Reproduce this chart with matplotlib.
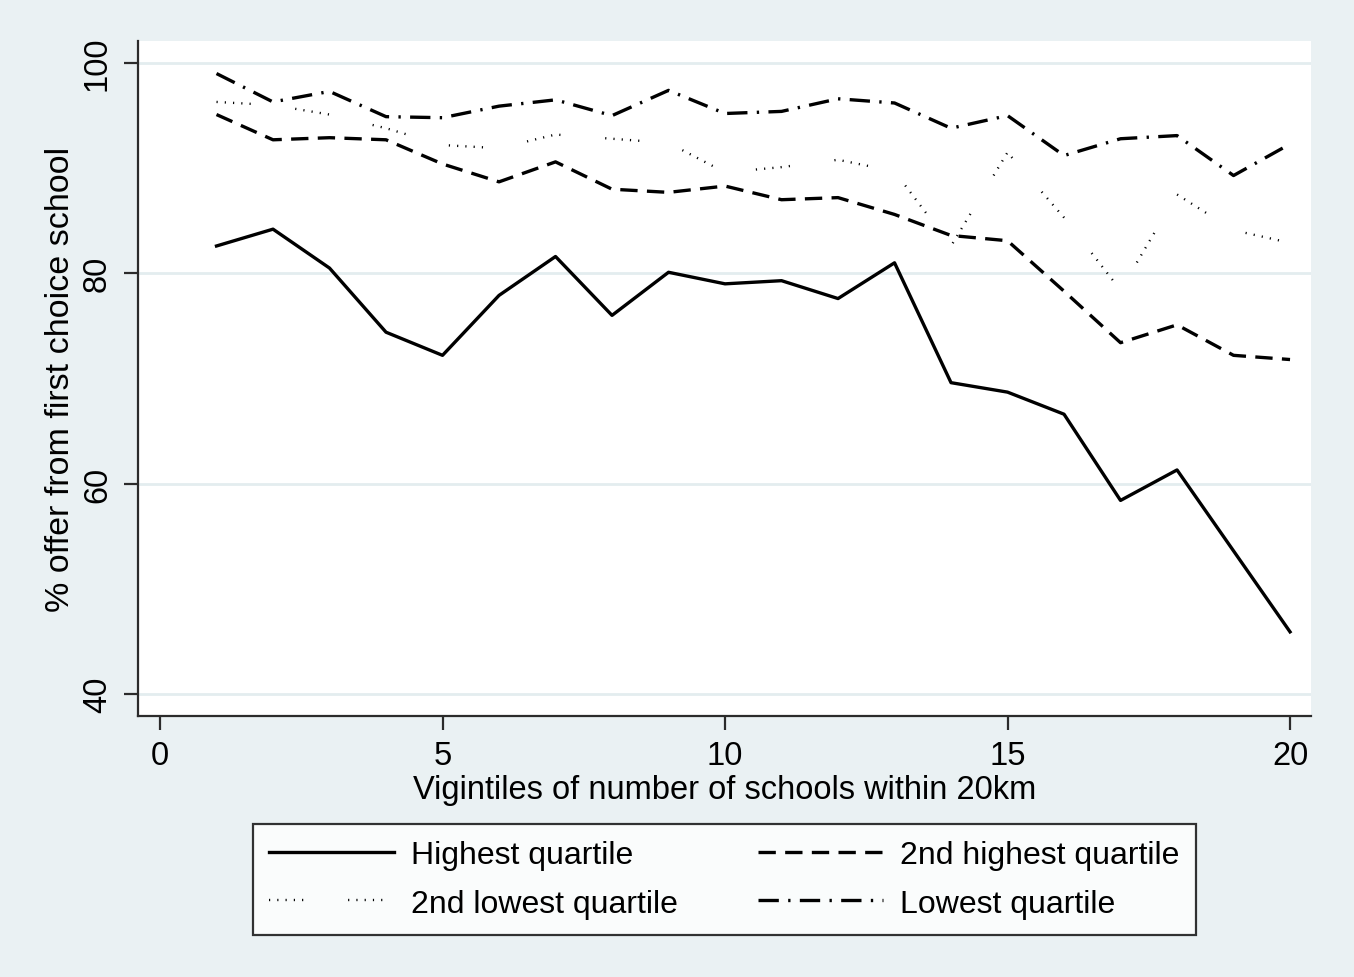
import matplotlib
matplotlib.use("Agg")
import matplotlib.pyplot as plt

# vigintile index and share of pupils offered their first choice, by quartile
vigintile = list(range(1, 21))
highest = [82.6, 84.2, 80.5, 74.4, 72.2, 77.9, 81.6, 76.0, 80.1, 79.0,
           79.3, 77.6, 81.0, 69.6, 68.7, 66.6, 58.4, 61.3, 53.6, 45.9]
second_highest = [95.1, 92.7, 92.9, 92.7, 90.4, 88.7, 90.6, 88.0, 87.7, 88.3,
                  87.0, 87.2, 85.6, 83.6, 83.1, 78.3, 73.4, 75.1, 72.2, 71.8]
second_lowest = [96.3, 96.0, 95.1, 93.8, 92.2, 91.9, 93.2, 92.8, 92.4, 89.6,
                 90.1, 90.8, 89.7, 82.6, 91.5, 85.3, 78.4, 87.5, 84.1, 82.9]
lowest = [99.0, 96.3, 97.3, 94.9, 94.8, 95.9, 96.5, 95.0, 97.4, 95.2,
          95.4, 96.6, 96.2, 93.8, 95.0, 91.2, 92.8, 93.1, 89.3, 92.3]

labels = ["Highest quartile", "2nd highest quartile",
          "2nd lowest quartile", "Lowest quartile"]
x_ticks = [0, 5, 10, 15, 20]
y_ticks = [40, 60, 80, 100]

BG = "#eaf1f3"
GRID = "#e3edef"
AXC = "#2b2b2b"

plt.rcParams["font.family"] = ["Liberation Sans", "DejaVu Sans"]

fig = plt.figure(figsize=(13.54, 9.78), dpi=100, facecolor=BG)
ax = fig.add_axes([0.1019, 0.2669, 0.8663, 0.6902])
ax.set_facecolor("white")

lw = 2.4
l1, = ax.plot(vigintile, highest, color="black", lw=lw, ls="-")
l2, = ax.plot(vigintile, second_highest, color="black", lw=lw,
              ls=(0, (5.2, 2.8)))
l3, = ax.plot(vigintile, second_lowest, color="black", lw=1.7,
              ls=(0, (0.5, 3.0, 0.5, 3.0, 0.5, 3.0, 0.5, 3.0, 0.5, 19)))
l4, = ax.plot(vigintile, lowest, color="black", lw=lw,
              ls=(0, (6.1, 2.8, 0.7, 2.8)))

ax.set_xlim(-0.39, 20.37)
ax.set_ylim(37.9, 102.1)
ax.set_xticks(x_ticks)
ax.set_yticks(y_ticks)
ax.grid(axis="y", color=GRID, lw=2)
ax.set_axisbelow(True)

for s in ["top", "right"]:
    ax.spines[s].set_visible(False)
for s in ["left", "bottom"]:
    ax.spines[s].set_color(AXC)
    ax.spines[s].set_linewidth(1.6)

ax.tick_params(axis="both", colors=AXC, labelcolor="black", width=1.6,
               length=10, labelsize=23.5)
ax.tick_params(axis="y", pad=8)
ax.tick_params(axis="x", pad=7.5)
for t in ax.get_yticklabels():
    t.set_rotation(90)
    t.set_va("center")

ax.set_xlabel("Vigintiles of number of schools within 20km", fontsize=23.5,
              labelpad=2)
ax.set_ylabel("% offer from first choice school", fontsize=24.5, labelpad=4.5)

# two rows: Highest / 2nd highest on top, 2nd lowest / Lowest below
leg = fig.legend([l1, l3, l2, l4],
                 [labels[0], labels[2], labels[1], labels[3]],
                 loc="center", bbox_to_anchor=(0.5351, 0.0997), ncol=2,
                 fontsize=23, frameon=True, fancybox=False,
                 handlelength=3.9, handletextpad=0.55, columnspacing=2.5,
                 labelspacing=0.57, borderpad=0.52)
leg.get_frame().set_edgecolor("black")
leg.get_frame().set_linewidth(1.6)

fig.savefig("out.png", dpi=100, facecolor=BG)
